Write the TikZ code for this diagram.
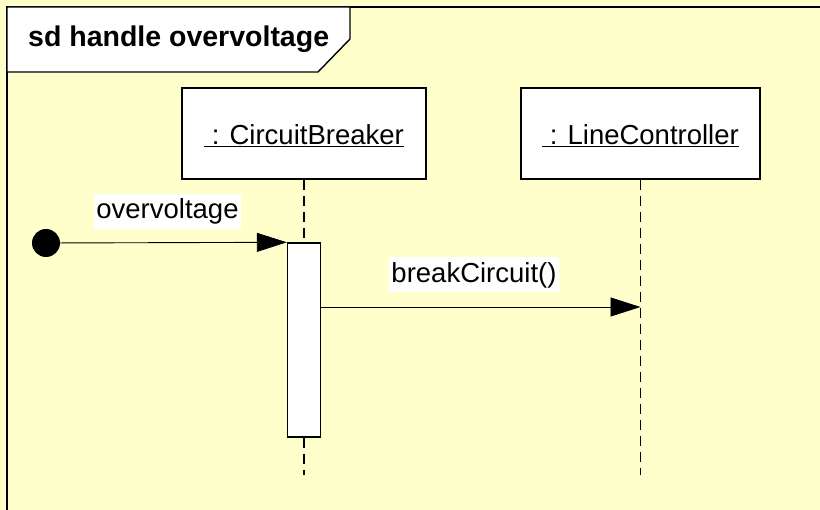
\documentclass[tikz,border=0pt]{standalone}
\usepackage{fontspec}
\setmainfont{Liberation Sans}
\usetikzlibrary{arrows.meta}
\definecolor{bgyellow}{HTML}{FFFFCC}
\begin{document}
\begin{tikzpicture}[x=1pt,y=-1pt,
  every node/.style={font=\fontsize{27.5}{33}\selectfont},
  framestyle/.style={draw=black,line width=1.4pt},
  lifehead/.style={draw=black,fill=white,line width=1.4pt,inner sep=0pt,minimum height=91pt,text height=27pt,text depth=4pt},
  lifeline/.style={draw=black,line width=1.3pt,dash pattern=on 10pt off 6pt},
  actbox/.style={draw=black,fill=white,line width=1.4pt,inner sep=0pt,minimum width=33pt,minimum height=194pt},
  initnode/.style={circle,fill=black,inner sep=0pt,minimum size=28pt},
  msg/.style={draw=black,line width=0.9pt,-{Triangle[length=30pt,width=19pt]}},
  msglabel/.style={fill=white,inner xsep=2pt,inner ysep=4pt,text height=21pt,text depth=6pt}
]
\useasboundingbox (0,0) rectangle (820,510);
\fill[bgyellow,overlay] (-10,-10) rectangle (830,520);
% frame
\draw[framestyle,overlay] (7,520) -- (7,7) -- (830,7);
\draw[framestyle,fill=white] (7,7) -- (350,7) -- (350,39) -- (318,72) -- (7,72) -- cycle;
\node[anchor=base west,font=\fontsize{28.5}{34}\selectfont\bfseries,inner sep=0pt] (title) at (28,47) {sd handle overvoltage};
% lifeline heads
\node[lifehead,minimum width=244pt] (cb) at (304,133.5) {\underline{\ : CircuitBreaker}};
\node[lifehead,minimum width=239pt] (lc) at (640.5,133.5) {\underline{\ : LineController}};
% activation
\node[actbox] (act) at (304,340) {};
\coordinate (cbend) at (304,475);
\coordinate (lcend) at (640.5,475);
\draw[lifeline] (cb.south) -- (act.north);
\draw[lifeline] (act.south) -- (cbend);
\draw[lifeline] (lc.south) -- (lcend);
% initial node
\node[initnode] (init) at (46,243) {};
\draw[msg] (init.center) -- (act.north west);
\node[msglabel] (l1) at (167.5,211.5) {overvoltage};
\draw[msg] (act.east |- 0,307) -- (lc.south |- 0,307);
\node[msglabel] (l2) at (474,275) {breakCircuit()};
\end{tikzpicture}
\end{document}
